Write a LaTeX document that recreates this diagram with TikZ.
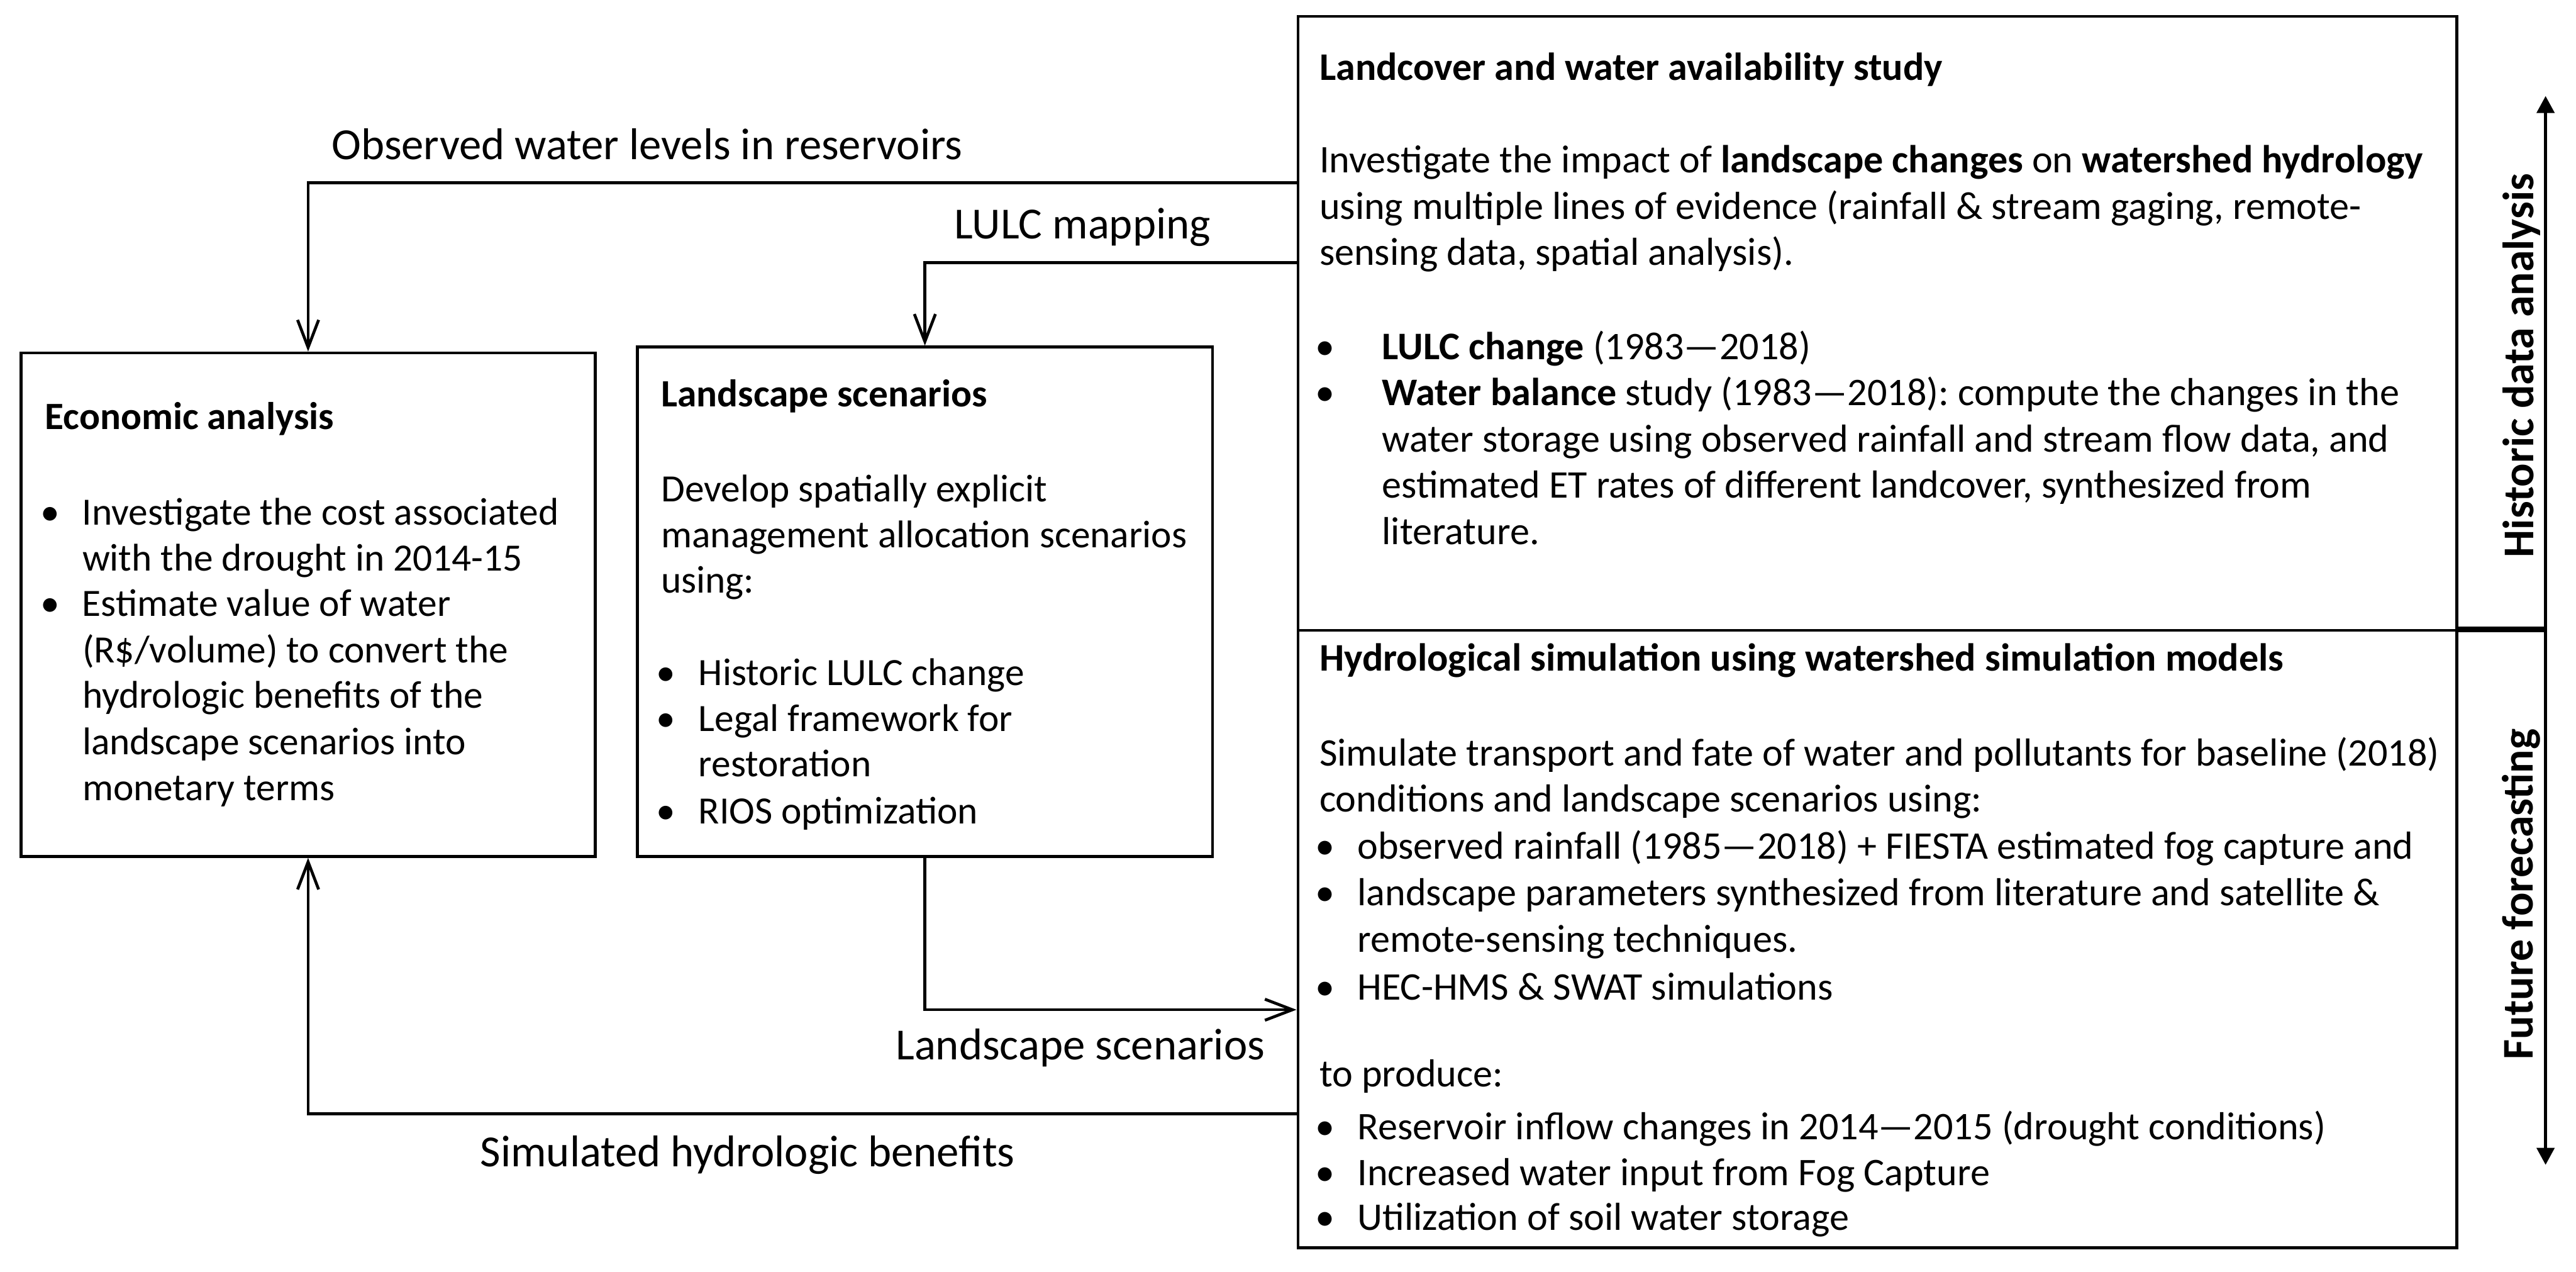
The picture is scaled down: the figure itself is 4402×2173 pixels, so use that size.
\documentclass[tikz,border=0pt]{standalone}
\usepackage{fontspec}
\setmainfont{Carlito}
\usetikzlibrary{arrows.meta}
\frenchspacing
\newcommand\bl[1]{\makebox[#1][l]{•}}
\tikzset{
 box/.style={draw, line width=1.25pt, inner sep=0pt},
 txt/.style={anchor=base west, inner sep=0pt, font=\fontsize{16.5pt}{19pt}\selectfont\frenchspacing},
 rtxt/.style={anchor=base west, inner sep=0pt, font=\fontsize{16.7pt}{19pt}\selectfont\frenchspacing},
 lab/.style={anchor=base west, inner sep=0pt, font=\fontsize{19pt}{22pt}\selectfont},
 side/.style={rotate=90, anchor=base, inner sep=0pt, font=\fontsize{18.75pt}{22pt}\selectfont\bfseries},
 conn/.style={line width=1.25pt, -{Straight Barb[length=11.75pt,width=9pt]}},
 axis/.style={line width=1.25pt, {Triangle[length=7.25pt,width=7.5pt]}-{Triangle[length=7.25pt,width=7.5pt]}},
}
\begin{document}
\begin{tikzpicture}[x=0.25pt,y=-0.25pt]
\useasboundingbox (0,0) rectangle (4402,2173);
% boxes
\node[box, minimum width=245.25pt, minimum height=215pt] (econ) at (526.5,1033) {};
\node[box, minimum width=245.75pt, minimum height=217.5pt] (land) at (1580.5,1028) {};
\node[box, minimum width=495pt, minimum height=262.25pt] (top) at (3208,552.5) {};
\node[box, minimum width=495pt, minimum height=263.75pt] (bot) at (3208,1604.5) {};
% top box text
\node[rtxt] (tT) at (2254,137) {\textbf{Landcover and water availability study}};
\node[rtxt] (t1) at (2254,295) {Investigate the impact of \textbf{landscape changes} on \textbf{watershed hydrology}};
\node[rtxt] (t2) at (2254,374) {using multiple lines of evidence (rainfall \& stream gaging, remote-};
\node[rtxt] (t3) at (2254,453) {sensing data, spatial analysis).};
\node[rtxt] (t4) at (2247,614) {\bl{28.5pt}\textbf{LULC change} (1983—2018)};
\node[rtxt] (t5) at (2247,693) {\bl{28.5pt}\textbf{Water balance} study (1983—2018): compute the changes in the};
\node[rtxt] (t6) at (2361,772) {water storage using observed rainfall and stream flow data, and};
\node[rtxt] (t7) at (2361,851) {estimated ET rates of different landcover, synthesized from};
\node[rtxt] (t8) at (2361,930) {literature.};
% bottom box text
\node[rtxt] (bT) at (2254,1146) {\textbf{Hydrological simulation using watershed simulation models}};
\node[rtxt] (b1) at (2254,1308) {Simulate transport and fate of water and pollutants for baseline (2018)};
\node[rtxt] (b2) at (2254,1387) {conditions and landscape scenarios using:};
\node[rtxt] (b3) at (2247,1467) {\bl{18pt}observed rainfall (1985—2018) + FIESTA estimated fog capture and};
\node[rtxt] (b4) at (2247,1547) {\bl{18pt}landscape parameters synthesized from literature and satellite \&};
\node[rtxt] (b5) at (2319,1627) {remote-sensing techniques.};
\node[rtxt] (b6) at (2247,1708) {\bl{18pt}HEC-HMS \& SWAT simulations};
\node[rtxt] (b7) at (2254,1857) {to produce:};
\node[rtxt] (b8) at (2247,1947) {\bl{18pt}Reservoir inflow changes in 2014—2015 (drought conditions)};
\node[rtxt] (b9) at (2247,2025) {\bl{18pt}Increased water input from Fog Capture};
\node[rtxt] (b10) at (2247,2102) {\bl{18pt}Utilization of soil water storage};
% economic box text
\node[txt] (eT) at (76,734) {\textbf{Economic analysis}};
\node[txt] (e1) at (68,897) {\bl{18pt}Investigate the cost associated};
\node[txt] (e2) at (140,975) {with the drought in 2014-15};
\node[txt] (e3) at (68,1053) {\bl{18pt}Estimate value of water};
\node[txt] (e4) at (140,1132) {(R\$/volume) to convert the};
\node[txt] (e5) at (140,1210) {hydrologic benefits of the};
\node[txt] (e6) at (140,1289) {landscape scenarios into};
\node[txt] (e7) at (140,1368) {monetary terms};
% landscape box text
\node[txt] (lT) at (1129,695) {\textbf{Landscape scenarios}};
\node[txt] (l1) at (1129,857) {Develop spatially explicit};
\node[txt] (l2) at (1129,935) {management allocation scenarios};
\node[txt] (l3) at (1129,1013) {using:};
\node[txt] (l4) at (1121,1171) {\bl{18pt}Historic LULC change};
\node[txt] (l5) at (1121,1249) {\bl{18pt}Legal framework for};
\node[txt] (l6) at (1193,1327) {restoration};
\node[txt] (l7) at (1121,1407) {\bl{18pt}RIOS optimization};
% connectors
\draw[conn] (top.west |- 0,312) -| (econ.north);
\draw[conn] (top.west |- 0,449) -| (land.north);
\draw[conn] (land.south) |- (bot.west |- 0,1725);
\draw[conn] (bot.west |- 0,1903) -| (econ.south);
% connector labels
\node[lab] (labObs) at (566,272) {Observed water levels in reservoirs};
\node[lab] (labLULC) at (1630,408) {LULC mapping};
\node[lab] (labLS) at (1530,1810) {Landscape scenarios};
\node[lab] (labSim) at (820,1993) {Simulated hydrologic benefits};
% time axis
\coordinate (axT) at (4350,164);
\coordinate (axB) at (4350,1990);
\draw[axis] (axT) -- (axB);
\coordinate (thk) at ([yshift=1.1pt]top.south east);
\draw[line width=2.5pt] (thk) -- (thk -| axT);
\node[side] (hist) at (4329,624.5) {Historic data analysis};
\node[side] (fut) at (4328,1527.5) {Future forecasting};
\end{tikzpicture}
\end{document}
